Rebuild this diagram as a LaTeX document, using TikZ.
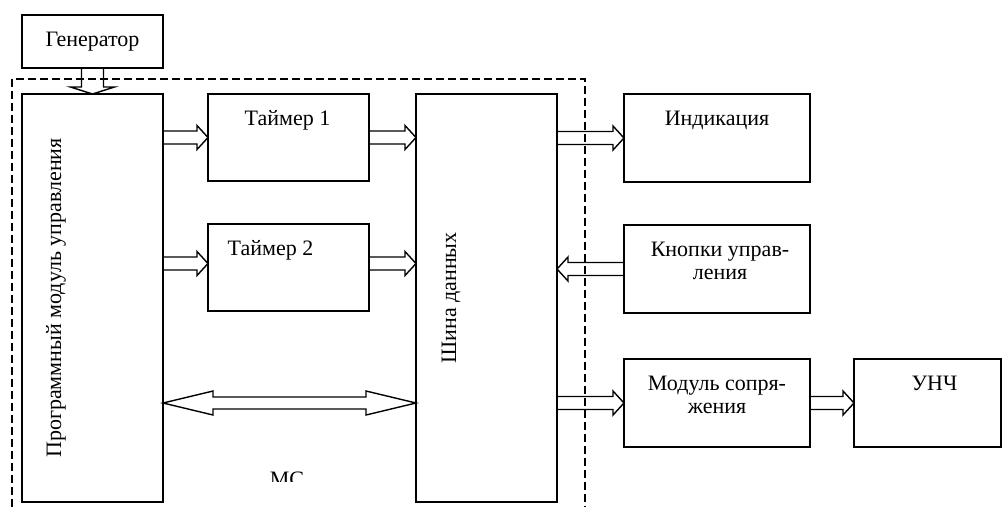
\documentclass[tikz,border=0pt]{standalone}
\usepackage{fontspec}
\setmainfont{Liberation Serif}
\usepackage{tikz}
\usetikzlibrary{positioning, calc}

% hollow bus arrow: from, to, shaft half width, head half width, head length
\newcommand{\busarrow}[5]{%
  \coordinate (hb) at ($(#2)!#5!(#1)$);
  \draw[bus] ($(#1)!#3!90:(#2)$) -- ($(hb)!#3!-90:(#1)$) -- ($(hb)!#4!-90:(#1)$)
    -- (#2) -- ($(hb)!#4!90:(#1)$) -- ($(hb)!#3!90:(#1)$) -- ($(#1)!#3!-90:(#2)$);
}
% hollow bus arrow with two heads
\newcommand{\dbusarrow}[5]{%
  \coordinate (ha) at ($(#1)!#5!(#2)$);
  \coordinate (hb) at ($(#2)!#5!(#1)$);
  \draw[bus] (#1) -- ($(ha)!#4!90:(#2)$) -- ($(ha)!#3!90:(#2)$) -- ($(hb)!#3!-90:(#1)$)
    -- ($(hb)!#4!-90:(#1)$) -- (#2) -- ($(hb)!#4!90:(#1)$) -- ($(hb)!#3!90:(#1)$)
    -- ($(ha)!#3!-90:(#2)$) -- ($(ha)!#4!-90:(#2)$) -- cycle;
}

\begin{document}
\begin{tikzpicture}[
  x=1pt, y=-1pt,
  block/.style={
    rectangle, draw=black, line width=1.6pt,
    inner sep=0pt, outer sep=0pt
  },
  small/.style={block, minimum width=161pt, minimum height=87pt},
  wide/.style={block, minimum width=186pt, minimum height=88pt},
  tall/.style={block, minimum width=141pt, minimum height=408pt},
  txt/.style={font=\fontsize{22}{23.5}\selectfont, align=center, inner sep=0pt},
  intxt/.style={txt, anchor=base, yshift=-31pt},
  intxttwo/.style={txt, anchor=base, yshift=-54.5pt},
  bus/.style={line width=1.4pt, line join=miter},
  frame/.style={line width=1.4pt, dash pattern=on 8pt off 4pt}
]
\useasboundingbox (0,0) rectangle (1003,507);

% Nodes
\node[block, minimum width=141pt, minimum height=53pt, anchor=north west] (gen) at (22,15) {};
\node[txt] (gentxt) at (gen.center) {Генератор};

\node[tall, below=26pt of gen] (prog) {};
\node[txt, rotate=90] (progtxt) at ($(prog.center)+(-36.5,0)$) {Программный модуль управления};

\node[small, below right=0pt and 45pt of prog.north east] (tim1) {};
\node[intxt, xshift=-1pt] (tim1txt) at (tim1.north) {Таймер 1};
\node[small, below=43pt of tim1] (tim2) {};
\node[intxt, xshift=-18pt] (tim2txt) at (tim2.north) {Таймер 2};

\node[tall, below right=0pt and 47pt of tim1.north east] (shina) {};
\node[txt, rotate=90] (shinatxt) at ($(shina.center)+(-35.5,0)$) {Шина данных};

\node[wide, below right=0pt and 67pt of shina.north east] (indik) {};
\node[intxt] (indiktxt) at (indik.north) {Индикация};
\node[wide, below=43pt of indik] (knop) {};
\node[intxttwo, xshift=3pt] (knoptxt) at (knop.north) {Кнопки управ-\\ления};
\node[wide, below=46pt of knop] (modul) {};
\node[intxttwo] (modultxt) at (modul.north) {Модуль сопря-\\жения};
\node[block, minimum width=147pt, minimum height=88pt, right=44pt of modul] (unch) {};
\node[intxt, xshift=7pt] (unchtxt) at (unch.north) {УНЧ};

% МС frame
\draw[frame] (12,507) -- (12,79) -- (585,79) -- (585,507);
\begin{scope}
  \clip (prog.east |- 0,460) rectangle (shina.west |- 0,481);
  \node[txt, anchor=base] (mc) at (287,486) {МС};
\end{scope}

% Arrows
\coordinate (g1) at (prog.north -| gen.south);
\busarrow{gen.south}{g1}{11pt}{22pt}{7pt}

\coordinate (t1a) at (prog.east |- tim1.west);
\coordinate (t1b) at (shina.west |- tim1.east);
\busarrow{t1a}{tim1.west}{6.5pt}{12pt}{11pt}
\busarrow{tim1.east}{t1b}{6.5pt}{12pt}{11pt}

\coordinate (t2a) at ($(prog.east |- tim2.west)+(0,-4)$);
\coordinate (t2b) at ($(shina.west |- tim2.east)+(0,-4)$);
\coordinate (t2w) at ($(tim2.west)+(0,-4)$);
\coordinate (t2e) at ($(tim2.east)+(0,-4)$);
\busarrow{t2a}{t2w}{6.5pt}{12pt}{11pt}
\busarrow{t2e}{t2b}{6.5pt}{12pt}{11pt}

\coordinate (ia) at (shina.east |- indik.west);
\busarrow{ia}{indik.west}{6.5pt}{12pt}{11pt}
\coordinate (ka) at (shina.east |- knop.west);
\busarrow{knop.west}{ka}{6.5pt}{12pt}{11pt}
\coordinate (ma) at (shina.east |- modul.west);
\busarrow{ma}{modul.west}{6.5pt}{12pt}{11pt}
\busarrow{modul.east}{unch.west}{6.5pt}{12pt}{11pt}

\coordinate (da) at (prog.east |- modul.west);
\coordinate (db) at (shina.west |- modul.west);
\dbusarrow{da}{db}{6pt}{12pt}{50pt}

\end{tikzpicture}
\end{document}
